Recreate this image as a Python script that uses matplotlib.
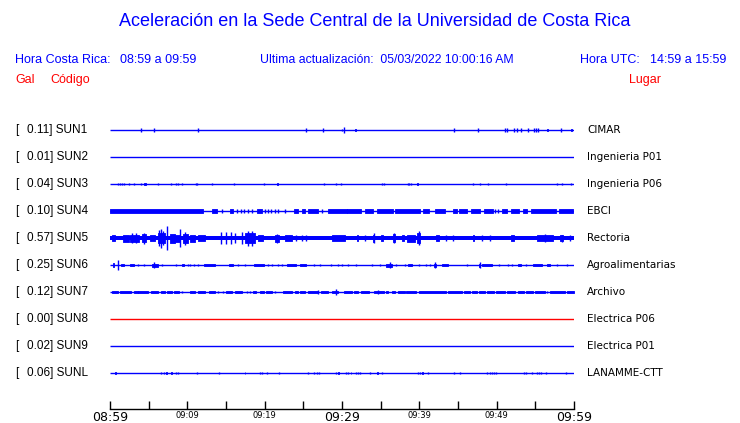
#! python3
# Aceleracion en la Sede Central UCR - recreacion del grafico de trazas

import matplotlib
matplotlib.use("Agg")
import matplotlib.pyplot as plt

# minutos desde 08:59 (hora Costa Rica)
tick_min = list(range(0, 61, 5))
tick_labels = ["08:59", "", "09:09", "", "09:19", "", "09:29", "", "09:39", "", "09:49", "", "09:59"]
big_ticks = ["08:59", "09:29", "09:59"]

canales = ["SUN1", "SUN2", "SUN3", "SUN4", "SUN5", "SUN6", "SUN7", "SUN8", "SUN9", "SUNL"]
maximos = ["0.11", "0.01", "0.04", "0.10", "0.57", "0.25", "0.12", "0.00", "0.02", "0.06"]
lugares = ["CIMAR", "Ingenieria P01", "Ingenieria P06", "EBCI", "Rectoria",
           "Agroalimentarias", "Archivo", "Electrica P06", "Electrica P01", "LANAMME-CTT"]
colores = ["blue", "blue", "blue", "blue", "blue", "blue", "blue", "red", "blue", "blue"]
# ruido de fondo (semi-amplitud) presente en toda la hora
ruido = [0, 0, 0, 0, 2.3, 0, 0, 0, 0, 0]

# eventos: (minuto inicio, minuto fin, semi-amplitud); inicio == fin -> pico
ev_sun1 = [(4.01, 4.01, 1.7), (5.73, 5.73, 1.7), (11.42, 11.42, 1.7), (25.39, 25.39, 1.7),
           (27.59, 27.59, 1.7), (29.96, 29.96, 1.0), (30.3, 30.3, 3.0), (31.7, 31.85, 1.3),
           (44.53, 44.53, 1.7), (47.63, 47.63, 1.7), (51.08, 51.08, 1.7), (51.34, 51.34, 1.7),
           (52.28, 52.28, 1.7), (52.63, 52.63, 1.7), (53.15, 53.15, 1.7), (54.01, 54.01, 1.7),
           (54.87, 54.87, 1.7), (55.13, 55.13, 1.7), (55.39, 55.39, 1.7), (56.45, 56.6, 1.3),
           (58.32, 58.32, 1.7), (59.62, 59.78, 1.3)]
ev_sun2 = []
ev_sun3 = [(1.08, 1.08, 1.3), (1.34, 1.34, 1.3), (1.59, 1.59, 1.3), (1.85, 1.85, 1.3),
           (2.46, 2.46, 0.8), (3.15, 3.15, 0.8), (4.01, 4.01, 1.3), (4.44, 4.7, 1.3),
           (6.25, 6.25, 1.3), (7.89, 7.89, 1.3), (8.58, 8.58, 1.0), (8.84, 8.84, 1.0),
           (9.35, 9.35, 1.0), (11.08, 11.08, 1.3), (11.25, 11.25, 1.3), (13.23, 13.23, 0.8),
           (16.08, 16.08, 0.8), (19.87, 19.87, 1.3), (21.59, 21.72, 1.3), (27.72, 27.72, 1.3),
           (29.27, 29.27, 0.8), (29.87, 29.87, 1.0), (35.13, 35.13, 1.0), (35.47, 35.47, 1.0),
           (38.49, 38.49, 1.3), (38.66, 38.66, 1.3), (38.92, 38.92, 1.3), (39.72, 39.85, 1.3),
           (46.98, 46.98, 0.8), (47.89, 47.89, 1.0), (48.92, 48.92, 1.0), (51.25, 51.25, 1.3),
           (57.8, 57.8, 1.3), (58.49, 58.49, 1.3), (59.61, 59.61, 1.3)]
ev_sun4 = [(0.0, 12.07, 2.0), (13.23, 13.84, 1.7), (14.44, 14.44, 1.7), (15.56, 15.9, 1.7),
           (16.42, 16.42, 1.7), (16.94, 16.94, 1.7), (17.37, 17.37, 1.7), (17.8, 17.8, 1.7),
           (18.32, 18.32, 1.7), (19.0, 19.61, 1.7), (20.04, 20.04, 1.7), (20.47, 20.47, 1.7),
           (20.82, 20.82, 1.7), (21.34, 21.34, 1.7), (21.77, 21.77, 1.7), (22.63, 22.63, 1.7),
           (23.75, 24.35, 1.7), (24.78, 25.22, 1.7), (25.65, 26.94, 1.7), (27.37, 27.37, 1.7),
           (28.15, 30.6, 1.7), (30.69, 32.5, 1.7), (32.93, 34.05, 1.7), (34.48, 36.64, 1.7),
           (36.9, 40.09, 1.7), (40.52, 41.29, 1.7), (42.07, 43.36, 1.7), (44.4, 44.91, 1.7),
           (45.09, 46.12, 1.7), (46.64, 47.84, 1.7), (48.36, 49.57, 1.7), (49.74, 49.74, 1.7),
           (50.17, 50.17, 1.7), (50.69, 51.29, 1.7), (51.81, 52.84, 1.7), (53.45, 53.88, 1.7),
           (54.4, 57.67, 1.7), (58.02, 59.91, 1.7)]
ev_sun5 = [(0.2, 0.7, 2.7), (1.7, 2.4, 3.5), (2.6, 3.7, 3.5), (2.9, 2.9, 5.0), (3.3, 3.3, 5.0),
           (4.1, 4.7, 4.0), (4.4, 4.4, 5.5), (5.2, 5.8, 3.0), (6.2, 7.1, 5.0), (6.4, 6.4, 8.0),
           (6.6, 6.6, 9.5), (6.9, 6.9, 7.0), (7.4, 7.4, 11.7), (7.8, 8.4, 4.5), (8.4, 9.1, 3.5),
           (9.1, 9.1, 9.3), (9.4, 10.1, 4.5), (9.7, 9.7, 6.5), (10.3, 11.0, 3.5), (11.4, 12.3, 3.0),
           (14.4, 14.4, 6.0), (15.0, 15.0, 6.0), (15.6, 15.6, 6.0), (16.1, 16.1, 5.0),
           (17.1, 17.1, 6.0), (17.5, 18.8, 5.0), (17.8, 17.8, 7.5), (18.3, 18.3, 7.5),
           (19.2, 19.8, 2.7), (21.4, 21.8, 3.5), (21.6, 21.6, 4.5), (22.6, 23.5, 2.8),
           (24.1, 24.1, 2.7), (24.8, 24.8, 2.7), (25.4, 25.4, 2.7), (28.7, 30.4, 2.7),
           (31.9, 32.1, 2.7), (33.0, 33.0, 3.0), (34.0, 34.2, 3.5), (34.1, 34.1, 5.0),
           (35.1, 35.3, 3.3), (36.6, 36.9, 4.0), (36.75, 36.75, 5.0), (37.8, 38.0, 2.7),
           (38.4, 39.4, 3.5), (39.7, 40.1, 5.0), (39.9, 39.9, 7.0), (42.2, 42.5, 2.7),
           (43.4, 43.4, 2.7), (44.4, 44.4, 2.7), (46.9, 47.1, 3.3), (48.1, 48.1, 2.7),
           (49.1, 49.1, 3.3), (51.9, 52.2, 2.7), (55.2, 57.3, 2.6), (56.3, 56.3, 4.0),
           (58.2, 58.6, 3.0), (58.4, 58.4, 3.5), (59.5, 59.5, 2.7)]
ev_sun6 = [(0.35, 0.5, 2.0), (1.08, 1.08, 5.3), (1.42, 1.77, 1.3), (2.63, 3.06, 1.3),
           (3.66, 3.66, 1.3), (4.35, 4.35, 1.0), (5.39, 6.25, 1.5), (5.73, 5.73, 2.7),
           (6.77, 6.77, 1.0), (8.49, 8.49, 1.3), (9.35, 9.61, 1.3), (10.04, 10.04, 1.3),
           (10.39, 10.39, 1.3), (10.82, 10.82, 1.3), (11.42, 11.42, 1.3), (12.2, 13.58, 1.2),
           (15.39, 15.9, 1.2), (16.6, 16.6, 1.3), (17.46, 17.46, 1.3), (18.58, 19.87, 1.2),
           (20.47, 20.47, 1.3), (20.9, 20.9, 1.3), (21.68, 21.68, 1.3), (22.28, 22.28, 1.3),
           (22.89, 24.0, 1.2), (24.6, 25.4, 1.2), (26.34, 26.34, 1.3), (27.2, 27.2, 1.3),
           (28.58, 28.58, 1.0), (29.53, 29.53, 1.0), (30.04, 30.04, 1.0), (30.82, 30.82, 1.0),
           (31.77, 31.77, 1.0), (33.84, 33.84, 1.0), (34.96, 34.96, 1.3), (35.65, 36.51, 1.5),
           (36.16, 36.16, 2.7), (37.03, 37.03, 1.0), (38.15, 38.15, 1.0), (38.58, 39.0, 1.2),
           (39.96, 39.96, 1.0), (40.9, 40.9, 1.0), (41.34, 41.34, 1.0), (41.94, 42.2, 1.5),
           (42.05, 42.05, 2.7), (42.89, 43.75, 1.2), (46.16, 46.16, 1.0), (47.72, 47.89, 1.5),
           (47.8, 47.8, 2.7), (48.06, 49.35, 1.2), (50.3, 50.3, 1.0), (51.42, 51.42, 1.3),
           (51.94, 51.94, 1.0), (52.72, 53.15, 1.2), (53.84, 53.84, 1.0), (54.7, 55.82, 1.2),
           (56.51, 56.85, 1.2), (57.8, 57.8, 1.0), (59.09, 59.09, 1.0)]
ev_sun7 = [(0.3, 0.99, 1.3), (1.34, 2.72, 1.3), (3.15, 3.58, 1.3), (3.66, 4.96, 1.3),
           (5.3, 6.16, 1.3), (6.6, 7.11, 1.3), (7.37, 7.97, 1.3), (8.23, 8.92, 1.3),
           (9.35, 9.35, 1.3), (10.3, 10.99, 1.3), (11.42, 12.28, 1.3), (12.8, 13.58, 1.3),
           (14.01, 14.01, 1.3), (14.61, 14.61, 1.3), (15.04, 15.73, 1.3), (16.16, 17.03, 1.3),
           (17.72, 17.72, 1.3), (18.06, 18.06, 1.3), (18.49, 18.92, 1.3), (19.44, 19.87, 1.3),
           (20.22, 20.91, 1.3), (21.34, 21.34, 1.3), (22.37, 23.58, 1.3), (23.92, 24.27, 1.3),
           (24.61, 25.22, 1.3), (25.65, 26.94, 1.3), (26.94, 26.94, 2.0), (27.28, 28.23, 1.3),
           (28.66, 29.53, 1.3), (29.18, 29.18, 2.7), (30.3, 31.25, 1.3), (31.59, 32.11, 1.3),
           (32.46, 33.49, 1.3), (34.1, 35.39, 1.3), (34.7, 34.7, 2.0), (35.65, 35.9, 1.3),
           (36.51, 36.85, 1.3), (37.2, 38.15, 1.3), (38.32, 39.53, 1.3), (39.96, 43.4, 1.3),
           (43.66, 45.47, 1.3), (45.73, 46.59, 1.3), (46.77, 47.46, 1.3), (47.72, 48.49, 1.3),
           (48.75, 49.61, 1.3), (49.87, 51.08, 1.3), (51.34, 52.37, 1.3), (52.72, 53.49, 1.3),
           (53.84, 54.7, 1.3), (54.96, 56.25, 1.3), (56.51, 56.51, 1.3), (56.85, 58.84, 1.3),
           (59.09, 60.0, 1.3)]
ev_sun8 = []
ev_sun9 = []
ev_sunl = [(0.65, 0.8, 1.3), (6.59, 6.59, 0.8), (6.94, 6.94, 0.8), (7.2, 7.35, 1.3),
           (7.95, 8.08, 1.3), (8.49, 8.49, 1.3), (8.84, 8.84, 1.3), (11.25, 11.25, 1.3),
           (14.09, 14.09, 0.8), (17.4, 17.52, 1.3), (19.35, 19.35, 1.3), (19.61, 19.61, 1.3),
           (20.3, 20.3, 0.8), (21.85, 21.85, 0.8), (25.65, 25.65, 0.8), (26.42, 26.42, 1.3),
           (26.77, 26.77, 1.3), (27.03, 27.03, 1.3), (29.27, 29.27, 1.3), (29.45, 29.6, 1.3),
           (30.56, 30.56, 0.8), (30.82, 30.82, 1.3), (31.1, 31.22, 1.3), (31.85, 31.85, 1.3),
           (32.11, 32.11, 1.3), (32.37, 32.37, 1.3), (33.66, 33.66, 1.3), (34.47, 34.6, 1.3),
           (35.22, 35.22, 1.3), (39.87, 39.87, 1.3), (40.13, 40.13, 1.3), (40.33, 40.45, 1.3),
           (41.16, 41.16, 0.8), (44.53, 44.53, 1.3), (45.3, 45.3, 1.3), (48.75, 48.75, 1.3),
           (49.09, 49.09, 1.3), (49.44, 49.44, 1.3), (49.7, 49.7, 1.3), (49.96, 49.96, 1.3),
           (53.58, 53.58, 1.3), (53.84, 53.84, 1.3), (54.61, 54.61, 1.3), (55.22, 55.22, 1.3),
           (55.47, 55.47, 1.3), (55.73, 55.73, 1.3), (56.34, 56.34, 1.3), (59.01, 59.01, 1.3)]

eventos = [ev_sun1, ev_sun2, ev_sun3, ev_sun4, ev_sun5, ev_sun6, ev_sun7, ev_sun8, ev_sun9, ev_sunl]

W, H = 740, 423


def px(x, y):
    """pixel (desde arriba-izquierda) -> fraccion de figura"""
    return x / W, 1 - y / H


def dibujar_traza(ax, y0, evs, color, base=0.0):
    ax.plot([0, 60], [y0, y0], color=color, lw=1.0, solid_capstyle="butt")
    if base:
        ax.fill_between([0, 60], y0 - base, y0 + base, color=color, lw=0)
    for t0, t1, a in evs:
        if t1 > t0:
            ax.fill_between([t0, t1], y0 - a, y0 + a, color=color, lw=0.6)
        else:
            ax.vlines(t0, y0 - a, y0 + a, color=color, lw=1.0)


fig = plt.figure(figsize=(W / 100, H / 100), dpi=100)
fig.patch.set_facecolor("white")

# eje principal: x en minutos, y en unidades de pantalla (27 por traza)
x0, x1, ytop, ybot = 110, 574, 115, 409
ax = fig.add_axes([x0 / W, 1 - ybot / H, (x1 - x0) / W, (ybot - ytop) / H])
ax.set_xlim(0, 60)
ax.set_ylim(ybot, ytop)
for s in ["top", "left", "right"]:
    ax.spines[s].set_visible(False)
ax.spines["bottom"].set_linewidth(1.0)
ax.set_yticks([])
ax.set_xticks(tick_min)
ax.set_xticklabels(tick_labels, family="DejaVu Sans")
ax.tick_params(axis="x", direction="in", length=6, width=1.0, pad=1.5)
for lab in ax.get_xticklabels():
    lab.set_fontsize(9 if lab.get_text() in big_ticks else 6)

font_h = "Liberation Sans"
for i, (canal, mx, lugar, col, evs, b) in enumerate(zip(canales, maximos, lugares, colores, eventos, ruido)):
    yc = 130 + 27 * i
    dibujar_traza(ax, yc, evs, col, b)
    fig.text(*px(15, yc), "[", fontsize=8.5, family=font_h, va="center", ha="left")
    fig.text(*px(27, yc), f"{mx}] {canal}", fontsize=8.5, family=font_h, va="center", ha="left")
    fig.text(*px(587, yc), lugar, fontsize=7.5, family="DejaVu Sans", va="center", ha="left")

# encabezados
fig.text(*px(375, 22), "Aceleración en la Sede Central de la Universidad de Costa Rica",
         fontsize=13, family=font_h, color="blue", ha="center", va="center")
fig.text(*px(15, 60), "Hora Costa Rica:", fontsize=9, family=font_h, color="blue", va="center")
fig.text(*px(120, 60), "08:59 a 09:59", fontsize=9, family=font_h, color="blue", va="center")
fig.text(*px(260, 60), "Ultima actualización:  05/03/2022 10:00:16 AM", fontsize=8.8,
         family=font_h, color="blue", va="center")
fig.text(*px(580, 60), "Hora UTC:", fontsize=9, family=font_h, color="blue", va="center")
fig.text(*px(650, 60), "14:59 a 15:59", fontsize=9, family=font_h, color="blue", va="center")
fig.text(*px(15, 80), "Gal", fontsize=9, family=font_h, color="red", va="center")
fig.text(*px(50, 80), "Código", fontsize=9, family=font_h, color="red", va="center")
fig.text(*px(629, 80), "Lugar", fontsize=9, family=font_h, color="red", va="center")

fig.savefig("out.png", dpi=100, facecolor="white")
